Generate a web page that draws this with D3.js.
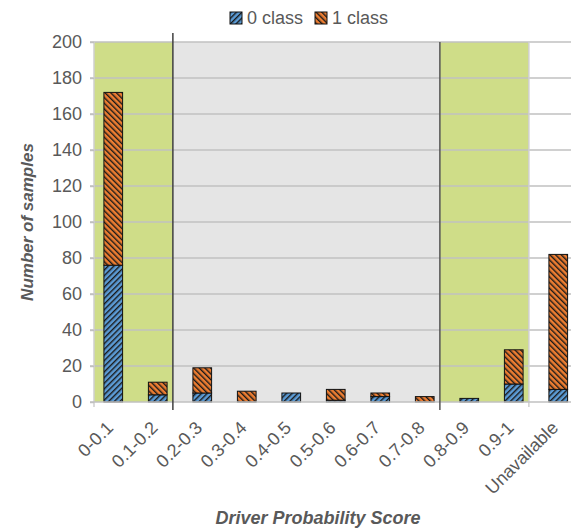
<!DOCTYPE html>
<html>
<head>
<meta charset="utf-8">
<script src="https://cdn.jsdelivr.net/npm/d3@7"></script>
<style>
  body { margin: 0; background: #fff; }
  svg text { font-family: "Liberation Sans", Arial, sans-serif; fill: #595959; }
</style>
</head>
<body>
<svg id="chart"></svg>
<script>
// data
var categories = ["0-0.1", "0.1-0.2", "0.2-0.3", "0.3-0.4", "0.4-0.5", "0.5-0.6",
                  "0.6-0.7", "0.7-0.8", "0.8-0.9", "0.9-1", "Unavailable"];
var class0 = [76, 4, 5, 0, 5, 1, 3, 0, 2, 10, 7];
var class1 = [96, 7, 14, 6, 0, 6, 2, 3, 0, 19, 75];
var seriesNames = ["0 class", "1 class"];
var yTickValues = [0, 20, 40, 60, 80, 100, 120, 140, 160, 180, 200];

// shaded zones, in category-index units (from, to)
var zoneFrom = [0, 2, 8];
var zoneTo = [2, 8, 10];

// layout
var W = 571, H = 532;
var plot_left = 94, plot_top = 42, plot_bottom = 402;
var band_start = 91, band_end = 580.5;
var zone_shift = -0.16; // shading sits a bit left of category edges
var green = "#cfdd88", grey = "#e5e5e5";
var zoneFill = [green, grey, green];
var blue = "#5b9bd5", orange = "#ed7d31";

var svg = d3.select("#chart").attr("width", W).attr("height", H);
svg.append("rect").attr("width", W).attr("height", H).attr("fill", "#fff");

var defs = svg.append("defs");
function hatch(id, color, angle) {
    var p = defs.append("pattern").attr("id", id)
        .attr("patternUnits", "userSpaceOnUse").attr("width", 4).attr("height", 4)
        .attr("patternTransform", "rotate(" + angle + ")");
    p.append("rect").attr("width", 4).attr("height", 4).attr("fill", color);
    p.append("rect").attr("x", 0).attr("width", 1.4).attr("height", 4).attr("fill", "#1a1a1a");
}
hatch("hatch0", blue, 45);
hatch("hatch1", orange, -45);
var fills = ["url(#hatch0)", "url(#hatch1)"];

var x = d3.scaleBand().domain(categories).range([band_start, band_end])
    .paddingInner(0.58).paddingOuter(0.29);
var y = d3.scaleLinear().domain([0, 200]).range([plot_bottom, plot_top]);
var step = x.step();

function zoneX(k) {
    var v = band_start + (k + zone_shift) * step;
    return Math.max(v, plot_left);
}

// background zones
svg.append("g").selectAll("rect").data(zoneFrom).enter().append("rect")
    .attr("x", (d, i) => zoneX(d))
    .attr("width", (d, i) => zoneX(zoneTo[i]) - zoneX(d))
    .attr("y", y(200)).attr("height", y(0) - y(200))
    .attr("fill", (d, i) => zoneFill[i]);

// gridlines
svg.append("g").selectAll("line").data(yTickValues.filter(v => v > 0)).enter().append("line")
    .attr("x1", plot_left - 4).attr("x2", W)
    .attr("y1", d => y(d)).attr("y2", d => y(d))
    .attr("stroke", "#c0c0c0").attr("stroke-width", 1.5);

// light vertical edges (axis, white zone edge)
[plot_left, zoneX(10)].forEach(function (xv) {
    svg.append("line").attr("x1", xv).attr("x2", xv).attr("y1", y(200)).attr("y2", y(0) + 5)
        .attr("stroke", "#cfcfcf").attr("stroke-width", 1.5);
});

// y axis labels
var yAxis = d3.axisLeft(y).tickValues(yTickValues).tickSize(4).tickPadding(8);
var yg = svg.append("g").attr("transform", `translate(${plot_left},0)`).call(yAxis);
yg.select(".domain").remove();
yg.selectAll(".tick line").attr("stroke", "#c0c0c0").attr("stroke-width", 1.5);
yg.selectAll(".tick text").style("font-size", "18px").attr("fill", "#595959")
    .style("font-family", '"Liberation Sans", Arial, sans-serif');

// stacked bars
var rows = categories.map((c, i) => ({ cat: c, c0: class0[i], c1: class1[i] }));
var stack = d3.stack().keys(["c0", "c1"])(rows);

svg.append("g").selectAll("g").data(stack).enter().append("g")
    .attr("fill", (d, i) => fills[i])
    .selectAll("rect").data(d => d.filter(s => s[1] - s[0] > 0)).enter().append("rect")
    .attr("x", d => x(d.data.cat))
    .attr("width", x.bandwidth())
    .attr("y", d => y(d[1]))
    .attr("height", d => y(d[0]) - y(d[1]))
    .attr("stroke", "#111").attr("stroke-width", 1);

// x axis line
svg.append("line").attr("x1", plot_left - 4).attr("x2", W)
    .attr("y1", y(0)).attr("y2", y(0))
    .attr("stroke", "#c0c0c0").attr("stroke-width", 1.5);

// dark dividers
svg.append("line").attr("x1", zoneX(2)).attr("x2", zoneX(2))
    .attr("y1", y(200) - 9).attr("y2", y(0) + 8).attr("stroke", "#404040").attr("stroke-width", 1.5);
svg.append("line").attr("x1", zoneX(8)).attr("x2", zoneX(8))
    .attr("y1", y(200)).attr("y2", y(0) + 8).attr("stroke", "#555").attr("stroke-width", 1.5);

// x labels
svg.append("g").selectAll("text").data(categories).enter().append("text")
    .attr("transform", d => `translate(${x(d) + x.bandwidth() / 2 + 1},${y(0) + 27}) rotate(-45)`)
    .attr("text-anchor", "end")
    .style("font-size", "18px")
    .text(d => d);

// axis titles
svg.append("text").attr("x", 318).attr("y", 524).attr("text-anchor", "middle")
    .style("font-size", "18px").style("font-weight", "bold").style("font-style", "italic")
    .text("Driver Probability Score");
svg.append("text").attr("transform", "translate(33,222) rotate(-90)").attr("text-anchor", "middle")
    .style("font-size", "17px").style("font-weight", "bold").style("font-style", "italic")
    .text("Number of samples");

// legend
var legend = svg.append("g");
var legX = [230, 315];
seriesNames.forEach(function (n, i) {
    var g = legend.append("g").attr("transform", `translate(${legX[i]},12)`);
    g.append("rect").attr("width", 12).attr("height", 12).attr("fill", fills[i])
        .attr("stroke", "#111").attr("stroke-width", 1);
    g.append("text").attr("x", 17).attr("y", 12).style("font-size", "18px").text(n);
});
</script>
</body>
</html>
